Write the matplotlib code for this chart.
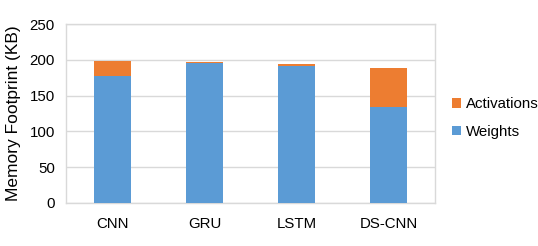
import matplotlib
matplotlib.use("Agg")
import matplotlib.pyplot as plt
import numpy as np

plt.rcParams['font.family'] = ['Liberation Sans', 'DejaVu Sans']

models = ["CNN", "GRU", "LSTM", "DS-CNN"]
weights = [178, 195, 192, 134]
activations = [21, 1.5, 1.5, 55]

blue = "#5B9BD5"
orange = "#ED7D31"
grid = "#D9D9D9"

fig = plt.figure(figsize=(5.38, 2.46), dpi=100)
ax = fig.add_axes([0.1227, 0.1748, 0.686, 0.7276])

x = np.arange(len(models))
ax.bar(x, weights, width=0.4, color=blue, label="Weights", zorder=3)
ax.bar(x, activations, width=0.4, bottom=weights, color=orange,
       label="Activations", zorder=3)

ax.set_xlim(-0.5, len(models) - 0.5)
ax.set_ylim(0, 250)
ax.set_yticks(range(0, 251, 50))
ax.set_xticks(x)
ax.set_xticklabels(models)
ax.tick_params(length=0, labelsize=10.8, colors="black")
ax.tick_params(axis="x", pad=10)
ax.tick_params(axis="y", pad=8)
ax.yaxis.grid(True, color=grid, linewidth=1, zorder=0)
for s in ax.spines.values():
    s.set_color(grid)
    s.set_linewidth(1)
ax.set_ylabel("Memory Footprint (KB)", fontsize=12.5, labelpad=6)

handles, labels = ax.get_legend_handles_labels()
fig.legend(handles[::-1], labels[::-1], loc="center left",
           bbox_to_anchor=(0.815, 0.52), frameon=False, fontsize=10.8,
           handlelength=0.6, handleheight=0.6, handletextpad=0.3,
           labelspacing=0.9)

fig.savefig("out.png", dpi=100)
